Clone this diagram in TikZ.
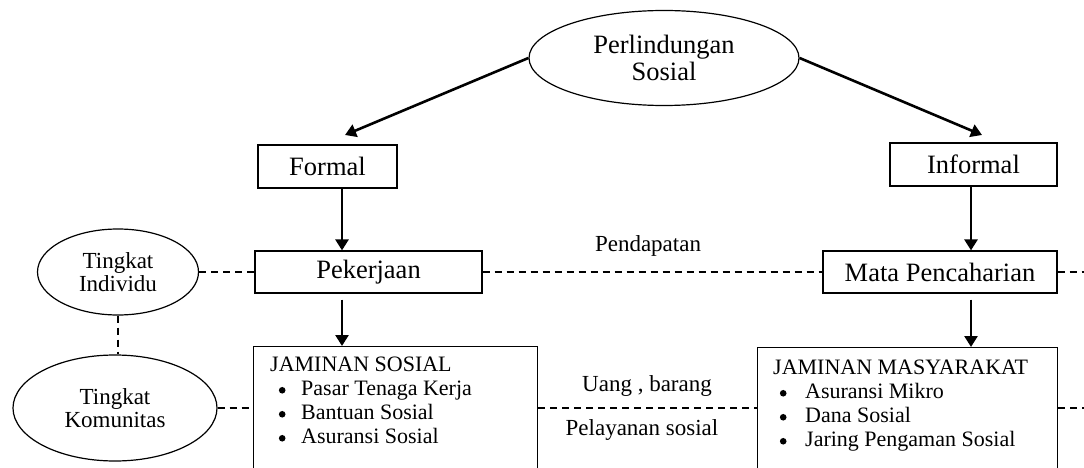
\documentclass[tikz,border=0pt]{standalone}
\usepackage{fontspec}
\setmainfont{Liberation Serif}
\usetikzlibrary{arrows.meta,shapes.geometric,calc}
% round list bullet, centred on the x-height
\newcommand{\bul}{\tikz[baseline=0pt]\fill (0pt,5.5pt) circle (3.3pt);}
\begin{document}
\begin{tikzpicture}[x=1pt,y=-1pt,
  box/.style={draw, line width=1.2pt, inner sep=0pt, font=\fontsize{26.5}{28}\selectfont},
  oval/.style={draw, ellipse, line width=1.2pt, inner sep=0pt, align=center},
  bigtext/.style={font=\fontsize{26.5}{27}\selectfont},
  smalltext/.style={font=\fontsize{23}{23}\selectfont},
  listtext/.style={font=\fontsize{22}{24}\selectfont, inner sep=0pt, align=left, anchor=north west},
  arr/.style={line width=2.6pt, -{Triangle[length=11pt,width=13pt]}},
  link/.style={line width=1.1pt, dash pattern=on 7pt off 5pt},
  lab/.style={font=\fontsize{23}{24}\selectfont, inner sep=0pt},
]
\useasboundingbox[fill=white] (0,0) rectangle (1084,468);
\begin{scope}
\clip (0,0) rectangle (1084,468);

% top node and the two branches
\node[oval, bigtext, minimum width=270pt, minimum height=95pt] (ps) at (664,58) {Perlindungan\\Sosial};
\node[box, minimum width=139pt, minimum height=43pt] (formal) at (327.5,166.5) {Formal};
\node[box, minimum width=167pt, minimum height=43pt] (informal) at (973.5,164.5) {Informal};

% individual level
\node[box, minimum width=227pt, minimum height=42pt] (pek) at (368.5,272) {Pekerjaan};
\node[box, minimum width=234pt, minimum height=42pt] (mata) at (940,272) {Mata Pencaharian};
\node[oval, smalltext, minimum width=161pt, minimum height=86pt] (ti) at (118,272) {Tingkat\\Individu};

% community level
\node[oval, smalltext, minimum width=204pt, minimum height=106pt] (tk) at (115,408) {Tingkat\\Komunitas};
\node[draw, line width=1.2pt, minimum width=284pt, minimum height=160pt, anchor=north west, inner sep=0pt] (js) at (253,346) {};
\node[draw, line width=1.2pt, minimum width=300pt, minimum height=160pt, anchor=north west, inner sep=0pt] (jm) at (757,347) {};

\node[listtext] (jst) at (270,357) {JAMINAN SOSIAL\\
  \makebox[24pt]{\bul}\hspace{7pt}Pasar Tenaga Kerja\\
  \makebox[24pt]{\bul}\hspace{7pt}Bantuan Sosial\\
  \makebox[24pt]{\bul}\hspace{7pt}Asuransi Sosial};
\node[listtext] (jmt) at (773,360) {JAMINAN MASYARAKAT\\
  \makebox[20pt]{\bul}\hspace{12pt}Asuransi Mikro\\
  \makebox[20pt]{\bul}\hspace{12pt}Dana Sosial\\
  \makebox[20pt]{\bul}\hspace{12pt}Jaring Pengaman Sosial};

% flow labels
\node[lab] (pend) at (648,246) {Pendapatan};
\node[lab] (uang) at (647,386) {Uang , barang};
\node[lab] (pel) at (642,430) {Pelayanan sosial};

% arrows
\coordinate (ltip) at (345,135);
\coordinate (rtip) at (982,135);
\coordinate (cl) at (342,0);
\coordinate (cr) at (971,0);
\draw[arr] (ps.west) -- (ltip);
\draw[arr] (ps.east) -- (rtip);
\draw[arr] (formal.south -| cl) -- (pek.north -| cl);
\draw[arr] (informal.south -| cr) -- (mata.north -| cr);
\draw[arr, shorten <=6pt] (pek.south -| cl) -- (js.north -| cl);
\draw[arr, shorten <=6pt] (mata.south -| cr) -- (jm.north -| cr);

% dashed links
\coordinate (edgeA) at (1084,272);
\coordinate (edgeB) at (1084,408);
\draw[link] (ti.east) -- (pek.west);
\draw[link] (pek.east) -- (mata.west);
\draw[link] (mata.east) -- (edgeA);
\draw[link] (ti.south) -- (ti.south |- tk.north);
\draw[link] (tk.east) -- (tk.east -| js.west);
\draw[link] (js.east |- tk.east) -- (jm.west |- tk.east);
\draw[link] (jm.east |- tk.east) -- (edgeB);
\end{scope}
\end{tikzpicture}
\end{document}
